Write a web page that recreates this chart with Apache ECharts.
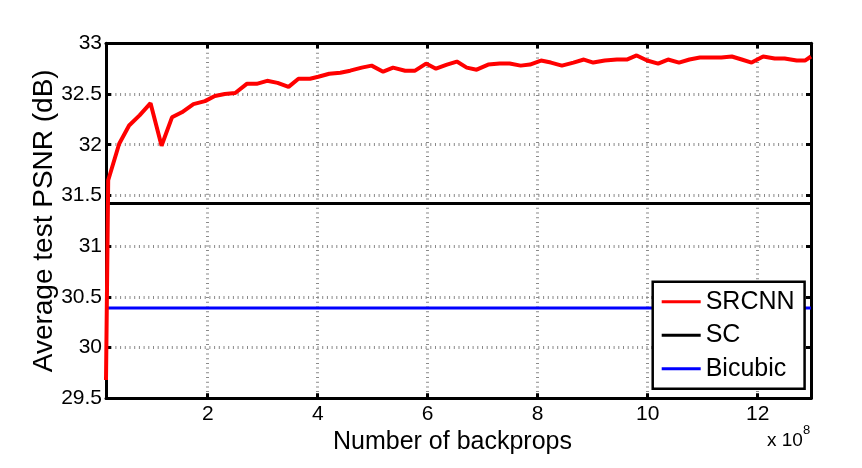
<!DOCTYPE html>
<html>
<head>
<meta charset="utf-8">
<script src="https://cdn.jsdelivr.net/npm/echarts@6/dist/echarts.min.js"></script>
<style>html,body{margin:0;padding:0;background:#fff}#c{width:862px;height:468px}</style>
</head>
<body>
<div id="c"></div>
<script>
// x in units of 1e8 backprops
const srcnnX = [0.15,0.19,0.39,0.57,0.76,0.96,1.16,1.35,1.53,1.74,1.95,2.13,2.31,2.50,2.71,2.89,3.08,3.27,3.47,3.65,3.86,4.01,4.21,4.41,4.59,4.80,4.98,5.19,5.37,5.59,5.77,5.97,6.15,6.35,6.53,6.71,6.89,7.10,7.31,7.49,7.69,7.86,8.06,8.24,8.44,8.65,8.84,9.01,9.22,9.44,9.62,9.80,9.99,10.19,10.37,10.57,10.76,10.95,11.16,11.34,11.53,11.71,11.89,12.10,12.31,12.49,12.71,12.86,12.97];
const srcnnY = [29.68,31.65,32.01,32.19,32.29,32.41,31.99,32.27,32.32,32.40,32.43,32.48,32.50,32.51,32.60,32.60,32.63,32.61,32.57,32.65,32.65,32.67,32.70,32.71,32.73,32.76,32.78,32.72,32.76,32.73,32.73,32.80,32.75,32.79,32.82,32.76,32.74,32.79,32.80,32.80,32.78,32.79,32.83,32.81,32.78,32.81,32.84,32.81,32.83,32.84,32.84,32.88,32.83,32.80,32.84,32.81,32.84,32.86,32.86,32.86,32.87,32.84,32.81,32.87,32.85,32.85,32.83,32.83,32.87];
const xRange = [0.15, 12.97];
const scValue = 31.42;
const bicubicValue = 30.39;
const xTicks = [2,4,6,8,10,12];
const yRange = [29.5, 33];
const yStep = 0.5;
const seriesNames = ['SRCNN','SC','Bicubic'];

const FONT = "'Liberation Sans', Arial, Helvetica, sans-serif";
const chart = echarts.init(document.getElementById('c'), null, {renderer:'canvas'});
const gridLine = {show:true, lineStyle:{color:'#8a8a8a', width:3, type:[1,3.7]}};
const axisLineStyle = {show:true, onZero:false, lineStyle:{color:'#000', width:3}};
const tickStyle = {show:true, inside:true, length:5, lineStyle:{color:'#000', width:3}};

chart.setOption({
  animation:false,
  backgroundColor:'#fff',
  grid:{left:106, right:51, top:43.3, bottom:69.7, containLabel:false},
  xAxis:[{
    type:'value', min:xRange[0], max:xRange[1], position:'bottom',
    axisLine:axisLineStyle,
    axisTick:Object.assign({customValues:xTicks}, tickStyle),
    axisLabel:{customValues:xTicks, color:'#000', fontSize:21, fontFamily:FONT, margin:5},
    splitLine:gridLine,
    name:'Number of backprops', nameLocation:'middle', nameGap:28,
    nameTextStyle:{color:'#000', fontSize:25, fontFamily:FONT, padding:[0,12,0,0]}
  },{
    type:'value', min:xRange[0], max:xRange[1], position:'top',
    axisLine:axisLineStyle,
    axisTick:Object.assign({customValues:xTicks}, tickStyle),
    axisLabel:{show:false, customValues:xTicks},
    splitLine:{show:false}
  }],
  yAxis:[{
    type:'value', min:yRange[0], max:yRange[1], interval:yStep, position:'left',
    axisLine:axisLineStyle, axisTick:tickStyle,
    axisLabel:{color:'#000', fontSize:21, fontFamily:FONT, margin:4},
    splitLine:gridLine,
    name:'Average test PSNR (dB)', nameLocation:'middle', nameGap:48, nameMoveOverlap:false,
    nameTextStyle:{color:'#000', fontSize:28, fontFamily:FONT}
  },{
    type:'value', min:yRange[0], max:yRange[1], interval:yStep, position:'right',
    axisLine:axisLineStyle, axisTick:tickStyle,
    axisLabel:{show:false}, splitLine:{show:false}
  }],
  legend:{
    data:seriesNames, orient:'vertical', left:652.7, top:281.7,
    icon:'rect', itemWidth:39, itemHeight:3, itemGap:7.5,
    padding:[7,10,7,9],
    backgroundColor:'#fff', borderColor:'#000', borderWidth:2.5,
    textStyle:{color:'#000', fontSize:25, fontFamily:FONT, lineHeight:26}
  },
  graphic:[{
    type:'text', left:767, top:424,
    style:{text:'{a|x 10}{b|8}', rich:{a:{fontSize:19, fontFamily:FONT, fill:'#000', padding:[7,0,0,0]}, b:{fontSize:13, fontFamily:FONT, fill:'#000', verticalAlign:'top'}}}
  }],
  series:[{
    name:seriesNames[0], type:'line', symbol:'none', z:3,
    data:srcnnX.map((x,i)=>[x, srcnnY[i]]),
    lineStyle:{color:'#ff0000', width:4}, itemStyle:{color:'#ff0000'}
  },{
    name:seriesNames[1], type:'line', symbol:'none', z:2,
    data:xRange.map(x=>[x, scValue]),
    lineStyle:{color:'#000', width:3}, itemStyle:{color:'#000'}
  },{
    name:seriesNames[2], type:'line', symbol:'none', z:2,
    data:xRange.map(x=>[x, bicubicValue]),
    lineStyle:{color:'#0000ff', width:3}, itemStyle:{color:'#0000ff'}
  }]
});
</script>
</body>
</html>
